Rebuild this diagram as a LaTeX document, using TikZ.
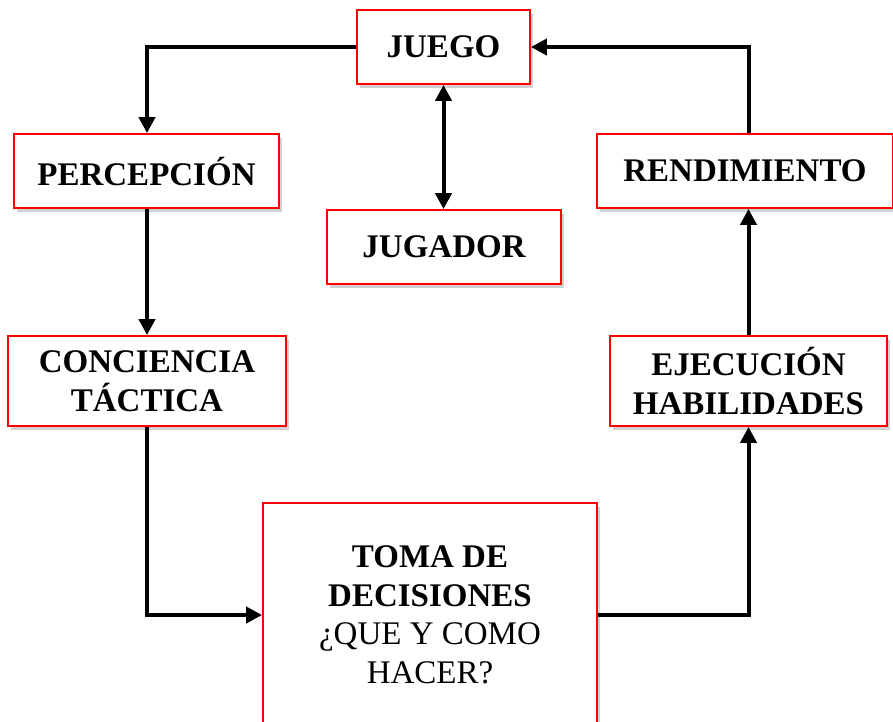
\documentclass[tikz,border=0pt]{standalone}
\usepackage{fontspec}
\setmainfont{Liberation Serif}
\usetikzlibrary{arrows.meta,shadows}
\definecolor{boxred}{RGB}{255,0,0}
\tikzset{
  box/.style={draw=boxred, line width=1.8pt, fill=white, align=center,
    inner sep=0pt, font=\fontsize{33}{38.5}\selectfont\bfseries,
    drop shadow={shadow xshift=3pt, shadow yshift=-4pt, opacity=0.3, fill=black!60}},
  tip/.style={Triangle[length=16pt,width=16pt]},
  link/.style={line width=4pt, -{Triangle[length=16pt,width=16pt]}},
}
\begin{document}
\begin{tikzpicture}[x=1pt,y=-1pt]
\clip (0,0) rectangle (893,721);
\node[box, minimum width=173pt, minimum height=74pt] (juego) at (443.5,47) {JUEGO};
\node[box, minimum width=265pt, minimum height=74pt] (percep) at (146.5,171) {PERCEPCIÓN};
\node[box, minimum width=296pt, minimum height=74pt] (rend) at (745,171) {RENDIMIENTO};
\node[box, minimum width=234pt, minimum height=74pt] (jugador) at (444,247) {JUGADOR};
\node[box, minimum width=278pt, minimum height=90pt] (conc) at (147,381) {CONCIENCIA\\TÁCTICA};
\node[box, minimum width=277pt, minimum height=90pt] (ejec) at (748.5,381) {EJECUCIÓN\\HABILIDADES};
\node[box, minimum width=334pt, minimum height=224pt] (toma) at (430,615)
  {TOMA DE\\DECISIONES\\\mdseries ¿QUE Y COMO\\\mdseries HACER?};
\draw[link] (juego.west) -| (conc.north |- percep.north);
\draw[link] (conc.north |- percep.south) -- (conc.north);
\draw[link] (conc.south) |- (toma.west);
\draw[link] (toma.east) -| (ejec.south);
\draw[link] (ejec.north) -- (ejec.north |- rend.south);
\draw[link] (ejec.north |- rend.north) |- (juego.east);
\draw[line width=4pt, {Triangle[length=16pt,width=16pt]}-{Triangle[length=16pt,width=16pt]}] (juego.south) -- (juego.south |- jugador.north);
\end{tikzpicture}
\end{document}
